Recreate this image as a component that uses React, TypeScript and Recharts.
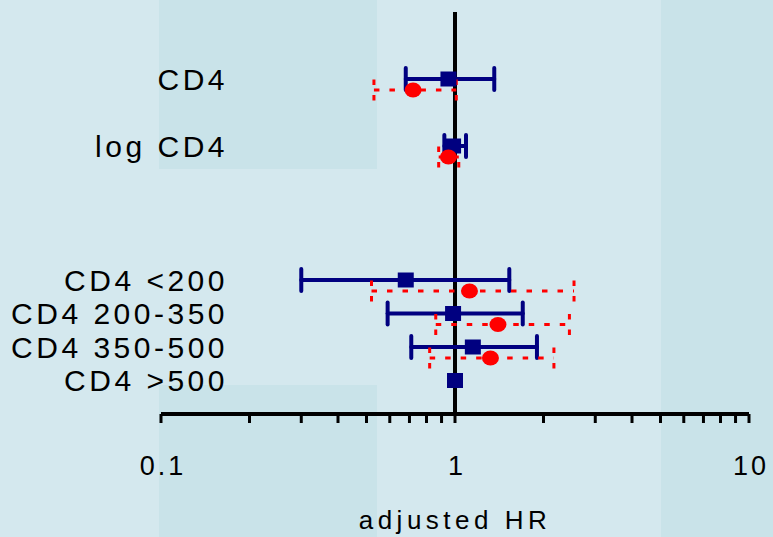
import React from 'react';
import {
  ComposedChart, Scatter, XAxis, YAxis, ErrorBar, ReferenceLine,
} from 'recharts';

// Row labels (row index counts from the bottom)
const labels = ['CD4 >500', 'CD4 350-500', 'CD4 200-350', 'CD4 <200', 'log CD4', 'CD4'];
const rows = [0, 1, 2, 3, 7, 9];

// Blue series (squares, solid CI)
const blueHR = [1.0, 1.15, 0.985, 0.68, 0.985, 0.95];
const blueLo = [null, 0.71, 0.59, 0.30, 0.92, 0.68];
const blueHi = [null, 1.90, 1.70, 1.53, 1.09, 1.36];

// Red series (circles, dashed CI)
const redHR = [null, 1.32, 1.40, 1.12, 0.95, 0.72];
const redLo = [null, 0.82, 0.86, 0.52, 0.88, 0.53];
const redHi = [null, 2.17, 2.45, 2.54, 1.03, 1.01];

const xTicks = [0.1, 0.2, 0.3, 0.4, 0.5, 0.6, 0.7, 0.8, 0.9, 1, 2, 3, 4, 5, 6, 7, 8, 9, 10];
const xLabelTicks = [0.1, 1, 10];

const blueData = rows.map((r, i) => ({ row: r, label: labels[i], hr: blueHR[i], lo: blueLo[i], hi: blueHi[i] }));
const redData = rows
  .map((r, i) => ({ row: r, label: labels[i], hr: redHR[i], lo: redLo[i], hi: redHi[i] }))
  .filter((d) => d.hr != null);

const errKey = (d: any) => (d.lo == null ? null : [d.hr - d.lo, d.hi - d.hr]);

const FONT = '"Liberation Sans", Arial, sans-serif';
const LIGHT = '#d4e8ee';
const DARK = '#c9e3e9';

const BlueSquare = (p: any) => (
  <rect x={p.cx - 8} y={p.cy - 7.5} width={16} height={15} fill="#000080" />
);
const RedDot = (p: any) => (
  <ellipse cx={p.cx} cy={p.cy} rx={8.5} ry={7.5} fill="#ff0000" />
);

const YTick = (p: any) => {
  const idx = rows.indexOf(p.payload.value);
  return (
    <text x={p.x + 67} y={p.y} dy="0.36em" textAnchor="end" fontFamily={FONT} fontSize={30}
      letterSpacing={3.5} fill="#000">
      {labels[idx]}
    </text>
  );
};

const XTick = (p: any) => {
  const v = p.payload.value;
  if (!xLabelTicks.includes(v)) return null;
  return (
    <text x={p.x + 2} y={p.y + 50} textAnchor="middle" fontFamily={FONT} fontSize={27}
      letterSpacing={3} fill="#000">
      {String(v)}
    </text>
  );
};

const XLabel = (p: any) => {
  const vb = p.viewBox;
  return (
    <text x={vb.x + vb.width / 2} y={vb.y + 115} textAnchor="middle" fontFamily={FONT}
      fontSize={26} letterSpacing={4.5} fill="#000">
      adjusted HR
    </text>
  );
};

export default function App() {
  return (
    <div style={{ position: 'absolute', left: 0, top: 0, width: 773, height: 537, background: LIGHT, overflow: 'hidden' }}>
      <div style={{ position: 'absolute', left: 159, top: 0, width: 218, height: 169, background: DARK }} />
      <div style={{ position: 'absolute', left: 159, top: 385, width: 218, height: 152, background: DARK }} />
      <div style={{ position: 'absolute', left: 661, top: 0, width: 112, height: 537, background: DARK }} />
      <div style={{ position: 'absolute', left: 0, top: 0 }}>
        <ComposedChart width={773} height={537} margin={{ top: 12, right: 24, bottom: 0, left: 0 }}>
          <XAxis
            type="number"
            dataKey="hr"
            scale="log"
            domain={[0.1, 10]}
            ticks={xTicks}
            interval={0}
            allowDataOverflow
            height={123}
            axisLine={{ stroke: '#000', strokeWidth: 4 }}
            tickLine={{ stroke: '#000', strokeWidth: 3 }}
            tickSize={9}
            tick={<XTick />}
            label={<XLabel />}
          />
          <YAxis
            yAxisId="b"
            type="number"
            dataKey="row"
            domain={[-1, 11]}
            ticks={rows}
            interval={0}
            width={161}
            axisLine={false}
            tickLine={false}
            tickSize={0}
            tickMargin={0}
            tick={<YTick />}
          />
          <YAxis
            yAxisId="r"
            type="number"
            dataKey="row"
            domain={[-1 + 0.33, 11 + 0.33]}
            hide
          />
          <ReferenceLine yAxisId="b" x={1} stroke="#000" strokeWidth={4} />
          <Scatter yAxisId="b" data={blueData} shape={<BlueSquare />} isAnimationActive={false}>
            <ErrorBar direction="x" dataKey={errKey} width={11} stroke="#000080" strokeWidth={4}
              strokeLinecap="round" />
          </Scatter>
          <Scatter yAxisId="r" data={redData} shape={<RedDot />} isAnimationActive={false}>
            <ErrorBar direction="x" dataKey={errKey} width={10.5} stroke="#ff0000" strokeWidth={3}
              strokeDasharray="5.5 10" />
          </Scatter>
        </ComposedChart>
      </div>
    </div>
  );
}
